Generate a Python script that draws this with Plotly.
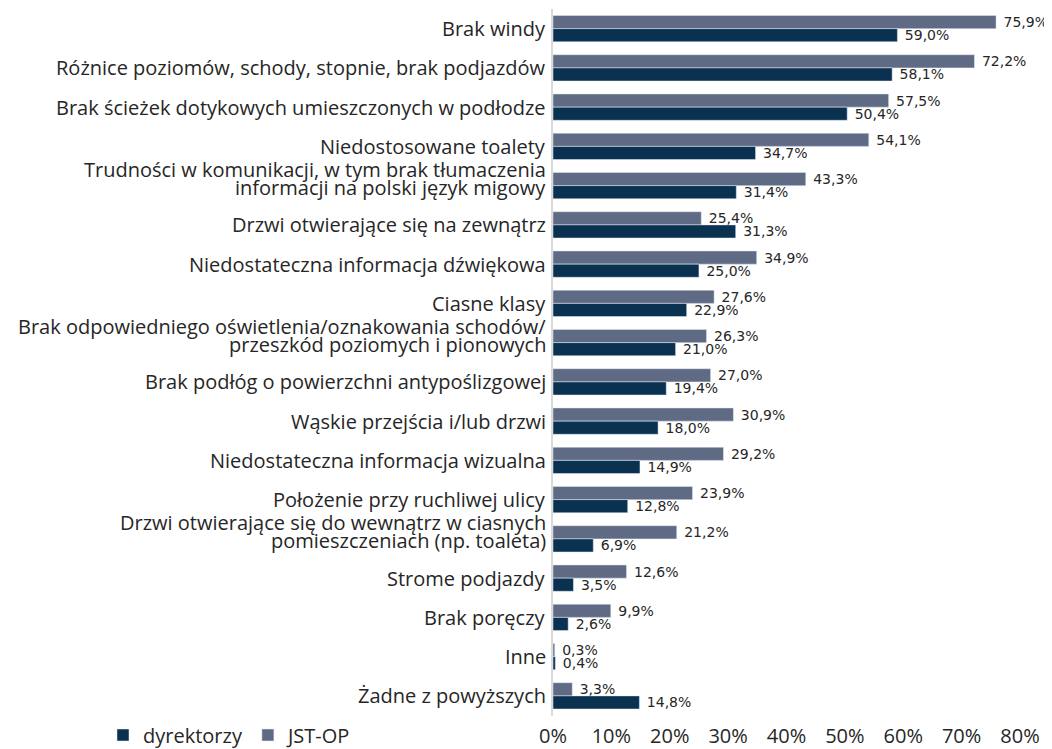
import plotly.graph_objects as go

categories = [
    "Brak windy",
    "Różnice poziomów, schody, stopnie, brak podjazdów",
    "Brak ścieżek dotykowych umieszczonych w podłodze",
    "Niedostosowane toalety",
    "Trudności w komunikacji, w tym brak tłumaczenia<br>informacji na polski język migowy",
    "Drzwi otwierające się na zewnątrz",
    "Niedostateczna informacja dźwiękowa",
    "Ciasne klasy",
    "Brak odpowiedniego oświetlenia/oznakowania schodów/<br>przeszkód poziomych i pionowych",
    "Brak podłóg o powierzchni antypoślizgowej",
    "Wąskie przejścia i/lub drzwi",
    "Niedostateczna informacja wizualna",
    "Położenie przy ruchliwej ulicy",
    "Drzwi otwierające się do wewnątrz w ciasnych<br>pomieszczeniach (np. toaleta)",
    "Strome podjazdy",
    "Brak poręczy",
    "Inne",
    "Żadne z powyższych",
]
dyrektorzy = [59.0, 58.1, 50.4, 34.7, 31.4, 31.3, 25.0, 22.9, 21.0, 19.4, 18.0, 14.9, 12.8, 6.9, 3.5, 2.6, 0.4, 14.8]
jst_op = [75.9, 72.2, 57.5, 54.1, 43.3, 25.4, 34.9, 27.6, 26.3, 27.0, 30.9, 29.2, 23.9, 21.2, 12.6, 9.9, 0.3, 3.3]
tick_vals = [0, 10, 20, 30, 40, 50, 60, 70, 80]
tick_text = [f"{v}%" for v in tick_vals]

TXT = "#262626"
FONT = "Open Sans"
FS = 20

# page body adds an 8px margin around the figure; compensate in the size
W, H = 1044, 741


def fmt(v):
    return "\u00a0" + f"{v:.1f}%".replace(".", ",")


fig = go.Figure()
fig.add_trace(go.Bar(
    y=categories, x=jst_op, orientation="h", name="JST-OP",
    marker_color="#5f6a84", text=[fmt(v) for v in jst_op],
    textposition="outside", cliponaxis=False, legendrank=2,
    constraintext="none",
    textfont=dict(family="DejaVu Sans", size=14, color=TXT),
))
fig.add_trace(go.Bar(
    y=categories, x=dyrektorzy, orientation="h", name="dyrektorzy",
    marker_color="#0a3150", text=[fmt(v) for v in dyrektorzy],
    textposition="outside", cliponaxis=False, legendrank=1,
    constraintext="none",
    textfont=dict(family="DejaVu Sans", size=14, color=TXT),
))

# category labels drawn as annotations anchored to the category axis
for cat in categories:
    lines = cat.split("<br>")
    shifts = [0] if len(lines) == 1 else [16, -1.5]
    for line, sh in zip(lines, shifts):
        fig.add_annotation(
            x=0, y=cat, xref="x", yref="y", text=line, showarrow=False,
            xanchor="right", yanchor="middle", xshift=-5, yshift=sh,
            font=dict(family=FONT, size=FS, color=TXT),
        )

fig.update_layout(
    width=W, height=H,
    margin=dict(l=545, r=32, t=1, b=31),
    barmode="group", bargap=0.33, bargroupgap=0,
    plot_bgcolor="white", paper_bgcolor="white",
    font=dict(family=FONT, color=TXT),
    showlegend=True,
    legend=dict(orientation="h", xref="container", yref="container",
                x=95 / W, y=(H - 727) / H, xanchor="left", yanchor="middle",
                font=dict(family=FONT, size=FS, color=TXT),
                itemwidth=30, traceorder="normal", bgcolor="rgba(0,0,0,0)"),
)
fig.update_yaxes(autorange="reversed", showgrid=False, showline=True,
                 linecolor="#d9d9d9", linewidth=2, ticks="", ticklen=0,
                 showticklabels=False, automargin=False)
fig.update_xaxes(range=[0, 80], tickvals=tick_vals, ticktext=tick_text,
                 showgrid=False, showline=False, zeroline=False,
                 ticks="outside", ticklen=2, tickcolor="rgba(0,0,0,0)",
                 tickfont=dict(family=FONT, size=FS, color=TXT),
                 automargin=False)

fig.write_html("out.html")
